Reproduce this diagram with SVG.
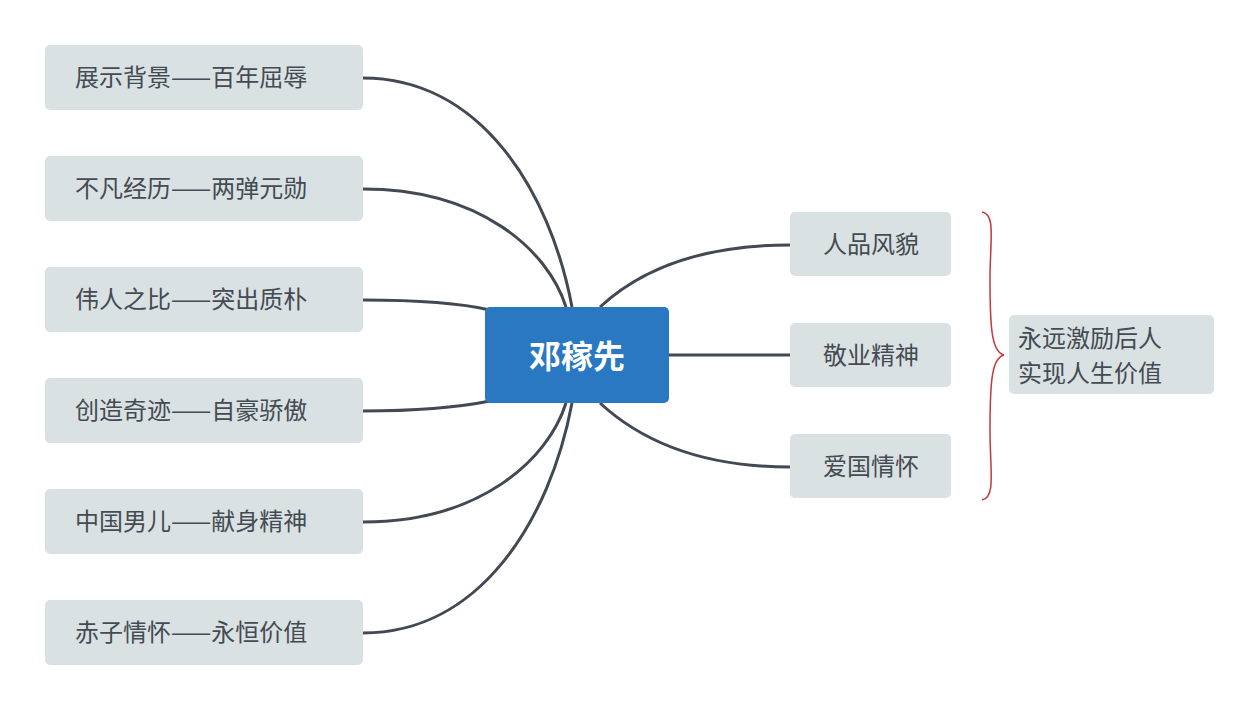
<svg xmlns="http://www.w3.org/2000/svg" width="1259" height="711" viewBox="0 0 1259 711">
<style>
.n{fill:#D9E1E3}
.t{font-family:"Noto Sans CJK SC",sans-serif;font-size:24px;fill:#454B52}
.c{fill:none;stroke:#434952;stroke-width:3}
</style>
<rect width="1259" height="711" fill="#fff"/>
<g id="connectors">
<path class="c" d="M363,78 C480,78 550,190 572,307"/>
<path class="c" d="M363,189 C480,189 548,250 566,307"/>
<path class="c" d="M363,300 C420,300 460,303 490,310"/>
<path class="c" d="M363,411 C420,411 460,407 490,401"/>
<path class="c" d="M363,522 C480,522 548,460 566,403"/>
<path class="c" d="M363,633 C480,633 550,520 572,403"/>
<path class="c" d="M600,307 C640,270 700,245 790,245"/>
<path class="c" d="M669,355 H790"/>
<path class="c" d="M600,403 C640,440 700,467 790,467"/>
<path d="M982,212 C996,214 990,240 990,280 C990,330 992,352 1004,355 C992,358 990,380 990,430 C990,470 996,498 982,500" fill="none" stroke="#C0393B" stroke-width="1.5"/>
</g>
<g id="center"><rect x="485" y="307" width="184" height="96" rx="5" fill="#2B78C2"/><text x="577" y="368" text-anchor="middle" font-family="Noto Sans CJK SC,sans-serif" font-size="32" font-weight="bold" fill="#fff">邓稼先</text></g>
<g id="l1"><rect class="n" x="45" y="45" width="318" height="65" rx="5"/><text class="t" x="75" y="86">展示背景——百年屈辱</text></g>
<g id="l2"><rect class="n" x="45" y="156" width="318" height="65" rx="5"/><text class="t" x="75" y="197">不凡经历——两弹元勋</text></g>
<g id="l3"><rect class="n" x="45" y="267" width="318" height="65" rx="5"/><text class="t" x="75" y="308">伟人之比——突出质朴</text></g>
<g id="l4"><rect class="n" x="45" y="378" width="318" height="65" rx="5"/><text class="t" x="75" y="419">创造奇迹——自豪骄傲</text></g>
<g id="l5"><rect class="n" x="45" y="489" width="318" height="65" rx="5"/><text class="t" x="75" y="530">中国男儿——献身精神</text></g>
<g id="l6"><rect class="n" x="45" y="600" width="318" height="65" rx="5"/><text class="t" x="75" y="641">赤子情怀——永恒价值</text></g>
<g id="r1"><rect class="n" x="790" y="212" width="161" height="64" rx="5"/><text class="t" x="871" y="253" text-anchor="middle">人品风貌</text></g>
<g id="r2"><rect class="n" x="790" y="323" width="161" height="64" rx="5"/><text class="t" x="871" y="364" text-anchor="middle">敬业精神</text></g>
<g id="r3"><rect class="n" x="790" y="434" width="161" height="64" rx="5"/><text class="t" x="871" y="475" text-anchor="middle">爱国情怀</text></g>
<g id="summary"><rect class="n" x="1009" y="315" width="205" height="79" rx="5"/><text class="t" x="1018" y="347">永远激励后人</text><text class="t" x="1018" y="382">实现人生价值</text></g>
</svg>
